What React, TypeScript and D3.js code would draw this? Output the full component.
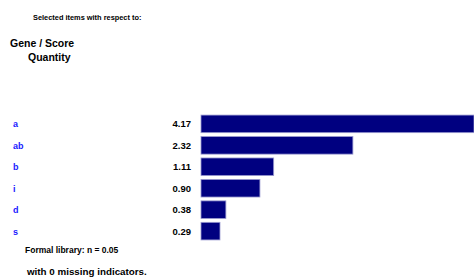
import React from "react";
import * as d3 from "d3";

// 좌측 링크형 레이블, 값 레이블, 막대 값
const rowKeys = ["a", "ab", "b", "i", "d", "s"];
const rowLabels = ["4.17", "2.32", "1.11", "0.90", "0.38", "0.29"];
const rowValues = [4.17, 2.32, 1.11, 0.9, 0.38, 0.29];

const titleLines = ["Selected items with respect to:"];
const headerLines = ["Gene / Score", "Quantity"];
const footerLines = ["Formal library: n = 0.05", "with 0 missing indicators."];

const W = 474;
const H = 279;

export default function App() {
  // 막대 스케일
  const x = d3.scaleLinear().domain([0, 4.17]).range([201, 474]);
  const y = d3
    .scaleBand<string>()
    .domain(rowKeys)
    .range([114, 241])
    .paddingInner(0.18)
    .paddingOuter(0.05);

  const font = "'Liberation Sans Narrow', 'Liberation Sans', sans-serif";

  return (
    <svg
      width={W}
      height={H}
      style={{ position: "absolute", left: 0, top: 0, background: "#fff" }}
      fontFamily={font}
      fontWeight="bold"
    >
      <text x={33} y={20} fontSize={7.4} fill="#000">
        {titleLines[0]}
      </text>
      <text x={10} y={47} fontSize={10.5} fill="#000">
        {headerLines[0]}
      </text>
      <text x={28} y={61} fontSize={10.5} fill="#000">
        {headerLines[1]}
      </text>

      {rowKeys.map((k, i) => {
        const yy = y(k) as number;
        const bh = y.bandwidth();
        return (
          <g key={k}>
            <text
              x={13}
              y={yy + bh / 2 + 3.5}
              fontSize={9}
              fill="#2020ff"
            >
              {k}
            </text>
            <text
              x={191}
              y={yy + bh / 2 + 3.5}
              fontSize={9.5}
              textAnchor="end"
              fill="#000"
            >
              {rowLabels[i]}
            </text>
            <rect
              x={x(0)}
              y={yy}
              width={x(rowValues[i]) - x(0)}
              height={bh}
              fill="#000080"
              stroke="#9a9ad0"
              strokeWidth={0.8}
            />
          </g>
        );
      })}

      <text x={25} y={253} fontSize={8.5} fill="#000">
        {footerLines[0]}
      </text>
      <text x={27} y={275} fontSize={9.8} fill="#000">
        {footerLines[1]}
      </text>
    </svg>
  );
}
